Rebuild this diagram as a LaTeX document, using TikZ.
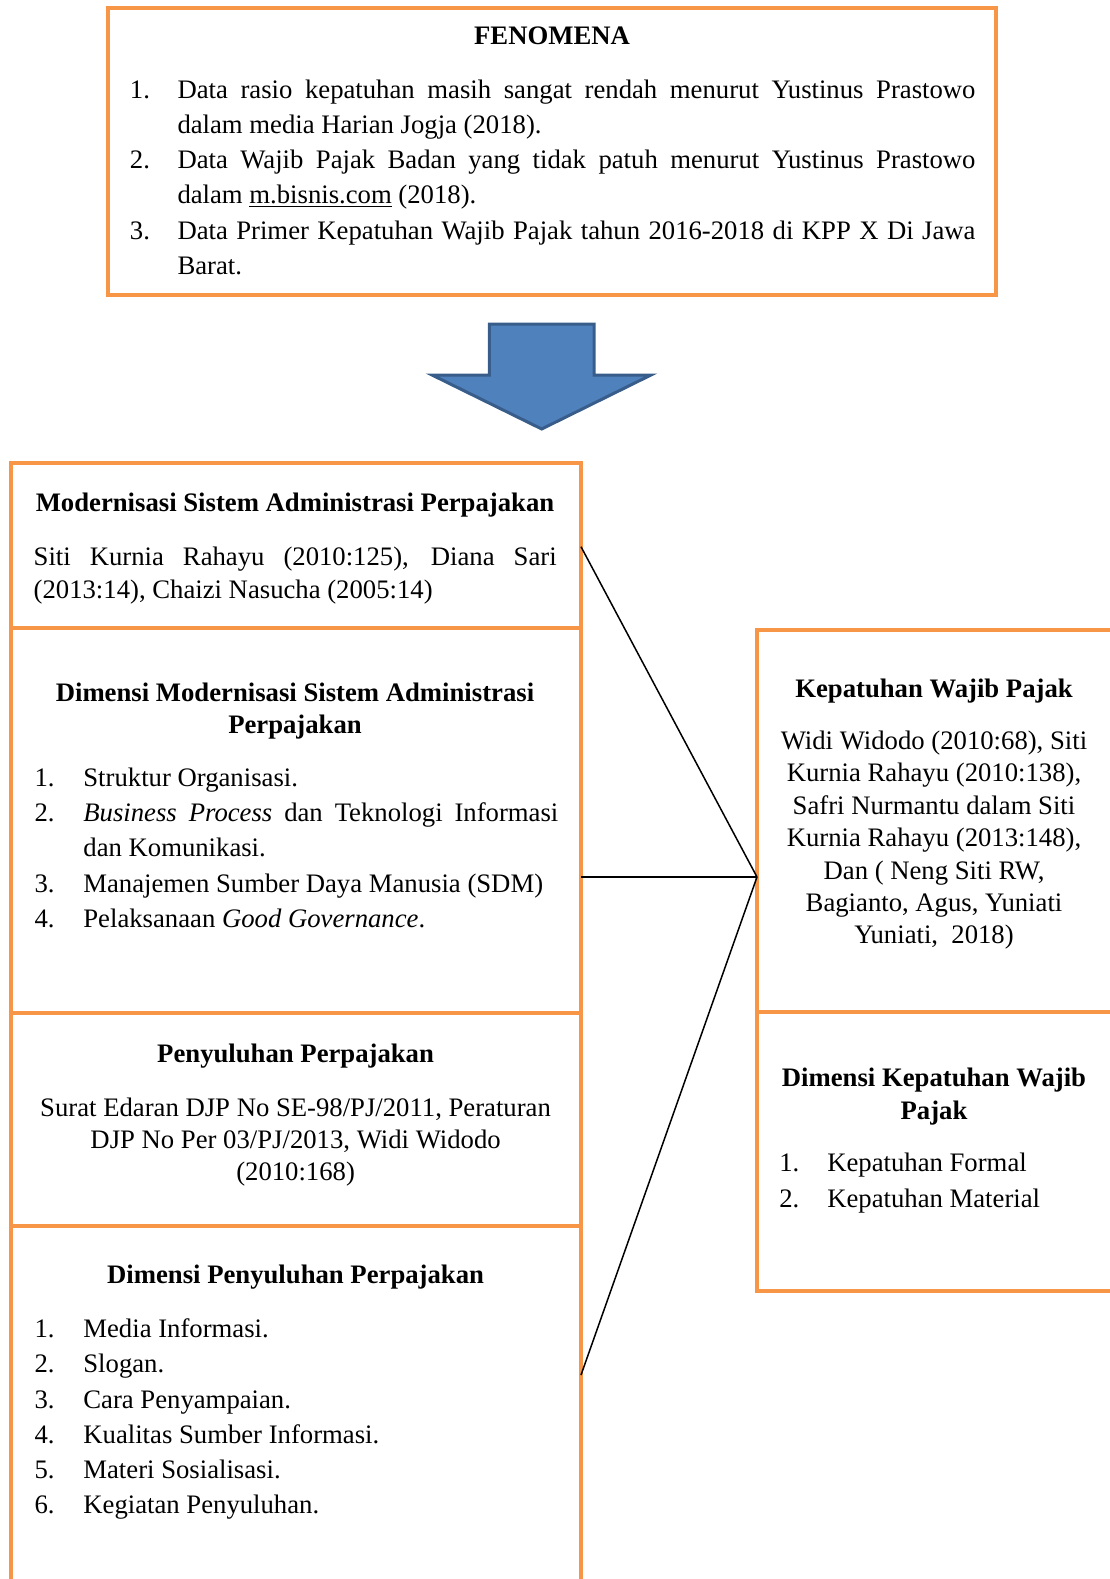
\documentclass[tikz,border=0pt]{standalone}
\usepackage{fontspec}
\setmainfont{Liberation Serif}
\definecolor{orangeC}{HTML}{F79646}
\definecolor{arrowFill}{HTML}{4F81BD}
\definecolor{arrowLine}{HTML}{385D8A}
\newcommand{\jl}[2]{\makebox[#1][s]{#2}}
\newcommand{\fsz}{13.35}
\begin{document}
\begin{tikzpicture}[x=0.5pt,y=-0.5pt,
  plainsp/.style={execute at begin node={\spaceskip=0pt\xspaceskip=0pt\relax}},
  fixsp/.style={execute at begin node={\spaceskip=\fontdimen2\font\relax\xspaceskip=0pt\relax}},
  obox/.style={draw=orangeC, line width=2pt, inner sep=0pt, outer sep=0pt, anchor=north west},
  txt/.style={inner sep=0pt, outer sep=0pt, font=\fontsize{\fsz}{17.6}\selectfont},
  num/.style={txt, anchor=base west},
  item/.style={txt, anchor=base west},
  para/.style={txt, plainsp, anchor=base west, align=left, text width=#1},
  hd/.style={fixsp, inner sep=0pt, outer sep=0pt, anchor=base, align=center, text width=#1, font=\fontsize{\fsz}{16.15}\selectfont\bfseries},
  hd/.default=280pt,
  ctr/.style={fixsp, inner sep=0pt, outer sep=0pt, anchor=base, align=center, text width=#1},
  conn/.style={draw=black, line width=0.75pt}]
\useasboundingbox (0,0) rectangle (1109,1579);

% ---------- top box ----------
\node[obox, minimum width=444pt, minimum height=143.5pt] (fen) at (108,8) {};
\node[hd] (fenT) at (552,44.3) {FENOMENA};
\node[num] (f1n) at (129.9,98.3) {1.};
\node[para=399pt] (f1) at (177.5,98.3) {\jl{399pt}{Data rasio kepatuhan masih sangat rendah menurut Yustinus Prastowo}\\dalam media Harian Jogja (2018).};
\node[num] (f2n) at (129.9,168.5) {2.};
\node[para=399pt] (f2) at (177.5,168.5) {\jl{399pt}{Data Wajib Pajak Badan yang tidak patuh menurut Yustinus Prastowo}\\dalam \underline{m.bisnis.com} (2018).};
\node[num] (f3n) at (129.9,239.2) {3.};
\node[para=399pt] (f3) at (177.5,239.2) {\jl{399pt}{Data Primer Kepatuhan Wajib Pajak tahun 2016-2018 di KPP X Di Jawa}\\Barat.};

% ---------- arrow ----------
\draw[line width=1.5pt, draw=arrowLine, fill=arrowFill, line join=miter]
  (489.3,324) -- (594,324) -- (594,375) -- (651,375) -- (541.7,429) -- (432,375) -- (489.3,375) -- cycle;

% ---------- left boxes ----------
\node[obox, minimum width=285pt, minimum height=82.75pt] (boxA) at (11,462.5) {};
\node[obox, minimum width=285pt, minimum height=192.35pt] (boxB) at (11,628) {};
\node[obox, minimum width=285pt, minimum height=106.5pt] (boxC) at (11,1012.7) {};
\node[obox, minimum width=285pt, minimum height=190pt] (boxD) at (11,1225.7) {};

% box A
\node[hd] (aT) at (295,511.7) {Modernisasi Sistem Administrasi Perpajakan};
\node[para=261.5pt, font=\fontsize{\fsz}{16.65}\selectfont] (aB) at (33.7,565) {\jl{261.5pt}{Siti Kurnia Rahayu (2010:125), Diana Sari}\\(2013:14), Chaizi Nasucha (2005:14)};

% box B
\node[hd] (bT) at (295,701.5) {Dimensi Modernisasi Sistem Administrasi\\Perpajakan};
\node[num] (b1n) at (34.6,786.2) {1.};
\node[item] (b1) at (83.4,786.2) {Struktur Organisasi.};
\node[num] (b2n) at (34.6,821.5) {2.};
\node[para=237.5pt] (b2) at (83.4,821.5) {\jl{237.5pt}{\textit{Business Process} dan Teknologi Informasi}\\dan Komunikasi.};
\node[num] (b3n) at (34.6,892) {3.};
\node[item] (b3) at (83.4,892) {Manajemen Sumber Daya Manusia (SDM)};
\node[num] (b4n) at (34.6,927.3) {4.};
\node[item] (b4) at (83.4,927.3) {Pelaksanaan \textit{Good Governance}.};

% box C
\node[hd] (cT) at (295.6,1062.7) {Penyuluhan Perpajakan};
\node[ctr=280pt, font=\fontsize{\fsz}{16.05}\selectfont] (cB) at (295.6,1116) {Surat Edaran DJP No SE-98/PJ/2011, Peraturan\\DJP No Per 03/PJ/2013, Widi Widodo\\(2010:168)};

% box D
\node[hd] (dT) at (295.6,1283.8) {Dimensi Penyuluhan Perpajakan};
\node[num] (d1n) at (34.6,1337.5) {1.};
\node[item] (d1) at (83.4,1337.5) {Media Informasi.};
\node[num] (d2n) at (34.6,1372.8) {2.};
\node[item] (d2) at (83.4,1372.8) {Slogan.};
\node[num] (d3n) at (34.6,1408) {3.};
\node[item] (d3) at (83.4,1408) {Cara Penyampaian.};
\node[num] (d4n) at (34.6,1443.3) {4.};
\node[item] (d4) at (83.4,1443.3) {Kualitas Sumber Informasi.};
\node[num] (d5n) at (34.6,1478.5) {5.};
\node[item] (d5) at (83.4,1478.5) {Materi Sosialisasi.};
\node[num] (d6n) at (34.6,1513.8) {6.};
\node[item] (d6) at (83.4,1513.8) {Kegiatan Penyuluhan.};

% ---------- right boxes ----------
\node[obox, minimum width=183pt, minimum height=191pt] (boxE) at (757,630) {};
\node[obox, minimum width=183pt, minimum height=139.5pt] (boxF) at (757,1012) {};

\node[hd=175pt] (eT) at (934,697) {Kepatuhan Wajib Pajak};
\node[ctr=175pt, font=\fontsize{\fsz}{16.22}\selectfont] (eB) at (934,749.3) {Widi Widodo (2010:68), Siti\\Kurnia Rahayu (2010:138),\\Safri Nurmantu dalam Siti\\Kurnia Rahayu (2013:148),\\Dan ( Neng Siti RW,\\Bagianto, Agus, Yuniati\\Yuniati,\ \ 2018)};

\node[hd=175pt] (fT) at (934,1086.8) {Dimensi Kepatuhan Wajib\\Pajak};
\node[num] (g1n) at (779.3,1171.6) {1.};
\node[item] (g1) at (827.3,1171.6) {Kepatuhan Formal};
\node[num] (g2n) at (779.3,1207) {2.};
\node[item] (g2) at (827.3,1207) {Kepatuhan Material};

% ---------- connectors ----------
\coordinate (conv) at (757,877);
\coordinate (aOut) at (581,546.7);
\coordinate (bOut) at (581,877);
\coordinate (dOut) at (581,1375);
\draw[conn] (aOut) -- (conv);
\draw[conn] (bOut) -- (conv);
\draw[conn] (dOut) -- (conv);
\end{tikzpicture}
\end{document}
